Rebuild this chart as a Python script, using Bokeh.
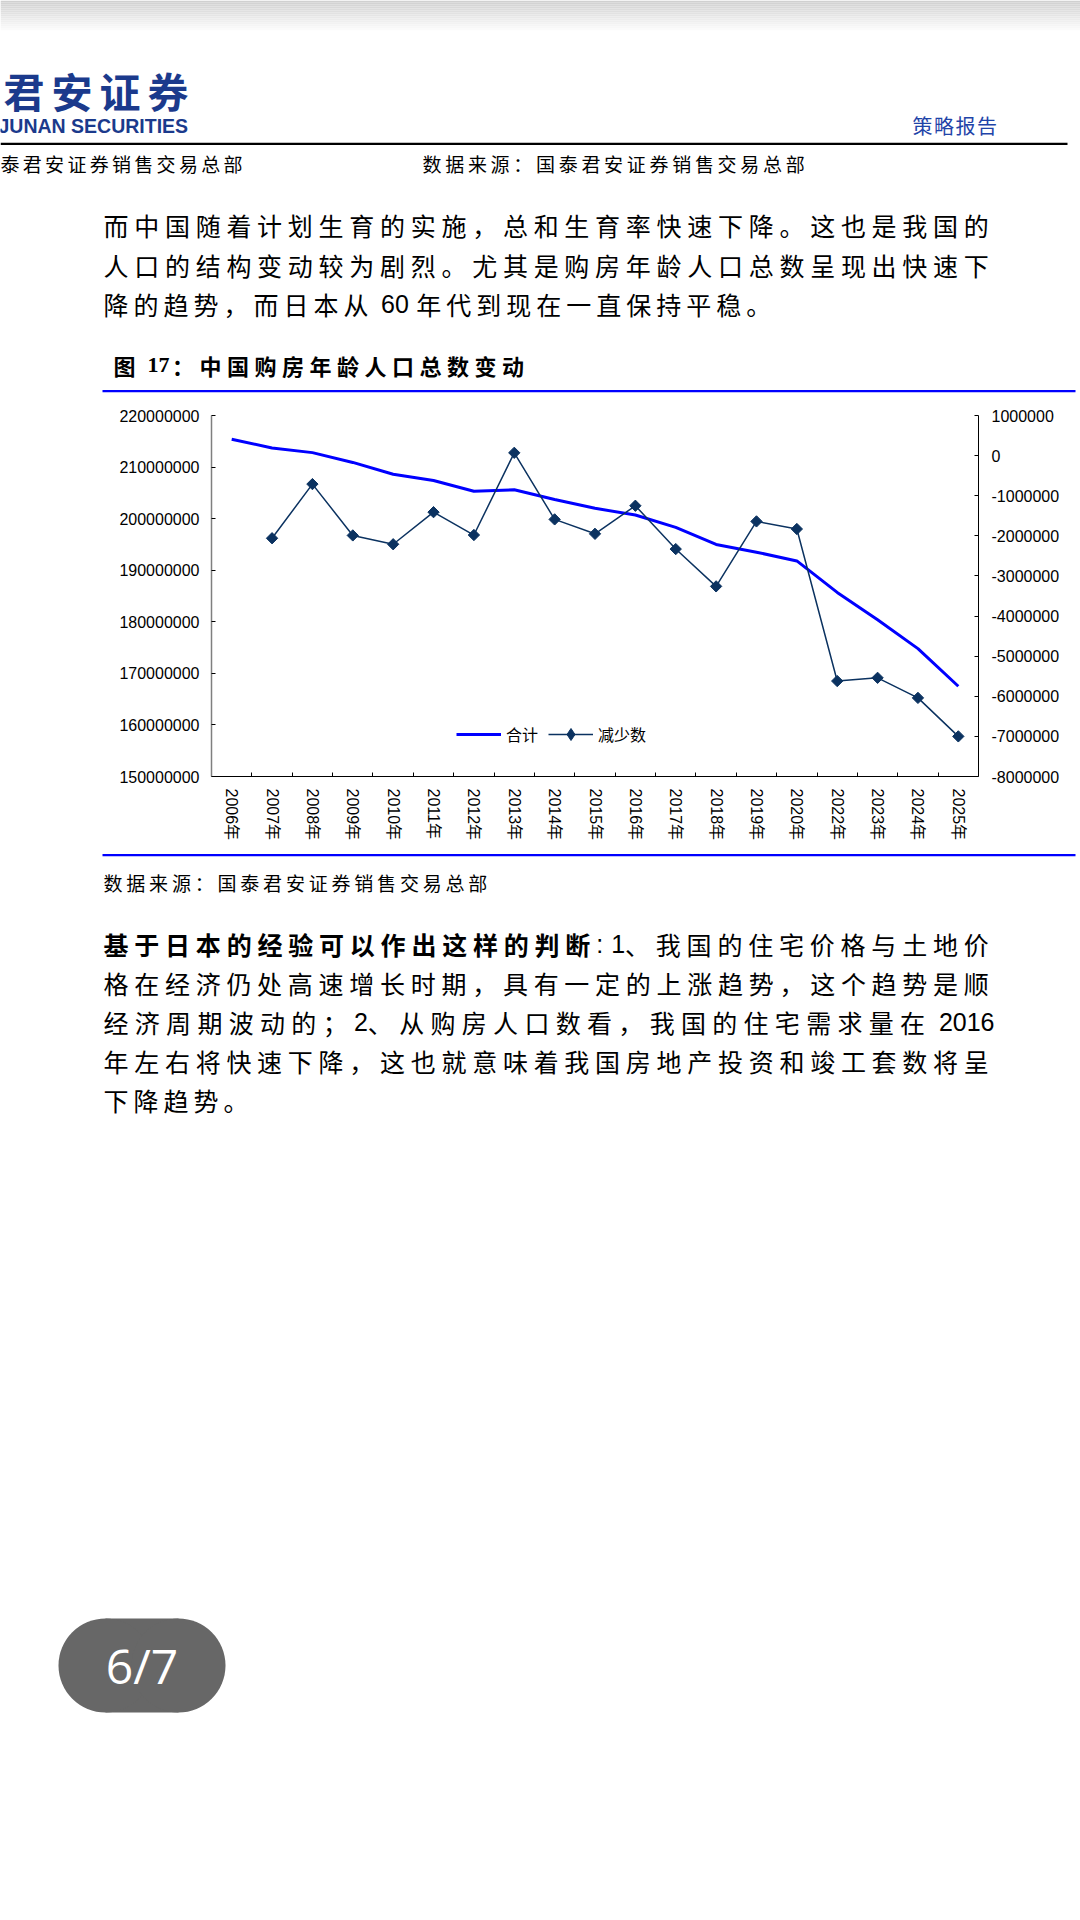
import math
import numpy as np
from bokeh.plotting import figure
from bokeh.layouts import column
from bokeh.models import (ColumnDataSource, Range1d, LinearAxis, FixedTicker,
                          NumeralTickFormatter, CustomJSTickFormatter,
                          Legend, LegendItem)
from bokeh.embed import file_html
from bokeh.resources import INLINE
from bokeh.core.properties import value

# ---------------- data ----------------
years = ["2006年", "2007年", "2008年", "2009年", "2010年", "2011年", "2012年",
         "2013年", "2014年", "2015年", "2016年", "2017年", "2018年", "2019年",
         "2020年", "2022年", "2023年", "2024年", "2025年"]
# 合计 (left axis)
total_pop = [215400000, 213700000, 212800000, 210900000, 208600000, 207400000,
             205300000, 205600000, 203700000, 202000000, 200700000, 198300000,
             195000000, 193500000, 191800000, 185700000, 180400000, 174800000,
             167500000]
# 减少数 (right axis), no value for 2006
decrease = [None, -2060000, -710000, -1990000, -2210000, -1410000, -1980000,
            70000, -1590000, -1950000, -1250000, -2330000, -3260000, -1640000,
            -1830000, -5620000, -5540000, -6040000, -7000000]
left_ticks = [150000000, 160000000, 170000000, 180000000, 190000000,
              200000000, 210000000, 220000000]
right_ticks = [-8000000, -7000000, -6000000, -5000000, -4000000, -3000000,
               -2000000, -1000000, 0, 1000000]

W = 1080
CJK = "Noto Sans CJK SC"
LAT = "Liberation Sans"


def add_line(fig, s, x0, y, size, pitch=None, x_end=None, bold_n=0,
             color="black", cjk_font=CJK, lat_font=LAT, lat_bold=False):
    tokens = []
    i = 0
    while i < len(s):
        if ord(s[i]) < 128:
            j = i
            while j < len(s) and ord(s[j]) < 128:
                j += 1
            tokens.append(("lat", s[i:j], i))
            i = j
        else:
            tokens.append(("cjk", s[i], i))
            i += 1

    def lat_w(t):
        w = 0.0
        for ch in t:
            if ch in " :;,.":
                w += 0.3 * size
            else:
                w += 0.556 * size
        return w

    n_cjk = sum(1 for t in tokens if t[0] == "cjk")
    lat_total = sum(lat_w(t[1]) for t in tokens if t[0] == "lat")
    if x_end is not None and n_cjk:
        pitch = (x_end - x0 - lat_total) / n_cjk
    x = x0
    groups = {}
    for kind, t, idx in tokens:
        if kind == "cjk":
            key = (cjk_font, "bold" if idx < bold_n else "normal")
            groups.setdefault(key, []).append((x, t))
            x += pitch
        else:
            cx = x
            for piece in t.split(" "):
                if piece:
                    key = (lat_font, "bold" if (idx < bold_n or lat_bold) else "normal")
                    groups.setdefault(key, []).append((cx, piece))
                cx += lat_w(piece) + 0.3 * size
            x += lat_w(t)
    for (font, style), items in groups.items():
        fig.text(x=[a for a, _ in items], y=[y] * len(items),
                 text=[b for _, b in items], text_font=value(font),
                 text_font_style=style, text_font_size=f"{size}px",
                 text_color=color, text_align="left", text_baseline="middle")


def page_fig(h):
    f = figure(width=W, height=h, x_range=Range1d(0, W), y_range=Range1d(h, 0),
               x_axis_type=None, y_axis_type=None, toolbar_location=None,
               output_backend="svg", min_border=0, outline_line_color=None,
               frame_align=False)
    f.background_fill_color = "white"
    f.border_fill_color = "white"
    return f


# ---------------- top part ----------------
top = page_fig(400)
steps = 16
for k in range(steps):
    c = int(208 + (255 - 208) * k / (steps - 1))
    top.quad(left=0, right=W, top=k * 2.0, bottom=k * 2.0 + 2.0,
             fill_color=f"#{c:02x}{c:02x}{c:02x}", line_color=None)

navy = "#1B3A8C"
add_line(top, "君安证券", 3, 89, 41, pitch=48, bold_n=4, color=navy)
top.text(x=[-2], y=[125], text=["JUNAN SECURITIES"], text_font=value(LAT),
         text_font_style="bold", text_font_size="19.5px", text_color=navy,
         text_align="left", text_baseline="middle")
add_line(top, "策略报告", 912, 125, 20, pitch=21.5, color="#1F44A8")
top.quad(left=0, right=1067, top=142.3, bottom=144.6, fill_color="black", line_color=None)
add_line(top, "泰君安证券销售交易总部", 0, 163, 19, pitch=22.3)
add_line(top, "数据来源：国泰君安证券销售交易总部", 422, 163, 19, pitch=22.7)

add_line(top, "而中国随着计划生育的实施，总和生育率快速下降。这也是我国的", 103, 224, 25, x_end=994)
add_line(top, "人口的结构变动较为剧烈。尤其是购房年龄人口总数呈现出快速下", 103, 264.5, 25, x_end=994)
add_line(top, "降的趋势，而日本从 60 年代到现在一直保持平稳。", 103, 303.7, 25, pitch=30)

add_line(top, "图 17：中国购房年龄人口总数变动", 113, 364, 22, pitch=27.5, bold_n=99,
         lat_font="Liberation Serif")
top.quad(left=102, right=1075, top=389.6, bottom=391.8, fill_color="#0000FF", line_color=None)

# ---------------- chart ----------------
n = len(years)
xs = [i + 0.5 for i in range(n)]
src = ColumnDataSource(dict(x=xs, total=total_pop,
                            dec=[np.nan if v is None else v for v in decrease]))

ch = figure(width=W, height=450, x_range=Range1d(0, n),
            y_range=Range1d(left_ticks[0], left_ticks[-1]),
            toolbar_location=None, output_backend="svg",
            min_border_left=211, min_border_right=102, min_border_top=15,
            min_border_bottom=74, outline_line_color=None, frame_align=False)
ch.background_fill_color = "white"
ch.border_fill_color = "white"
ch.extra_y_ranges = {"dec": Range1d(right_ticks[0], right_ticks[-1])}
ch.xgrid.visible = False
ch.ygrid.visible = False

ya = ch.yaxis[0]
ya.ticker = FixedTicker(ticks=left_ticks)
ya.formatter = NumeralTickFormatter(format="0")
ya.axis_line_color = "#7f7f7f"
ya.axis_line_width = 1.5
ya.major_tick_in = 4
ya.major_tick_out = 0
ya.minor_tick_in = 0
ya.minor_tick_out = 0
ya.major_tick_line_color = "black"
ya.major_label_standoff = 12
ya.major_label_text_font = LAT
ya.major_label_text_font_size = "16px"
ya.major_label_text_color = "black"

ra = LinearAxis(y_range_name="dec", ticker=FixedTicker(ticks=right_ticks),
                formatter=NumeralTickFormatter(format="0"))
ra.axis_line_color = "black"
ra.major_tick_in = 4
ra.major_tick_out = 0
ra.minor_tick_in = 0
ra.minor_tick_out = 0
ra.major_tick_line_color = "black"
ra.major_label_standoff = 13
ra.major_label_text_font = LAT
ra.major_label_text_font_size = "16px"
ra.major_label_text_color = "black"
ch.add_layout(ra, "right")

xa = ch.xaxis[0]
xa.ticker = FixedTicker(ticks=xs, minor_ticks=list(range(1, n)))
xa.formatter = CustomJSTickFormatter(args=dict(labels=years),
                                     code="return labels[Math.floor(tick)];")
xa.axis_line_color = "black"
xa.major_tick_in = 0
xa.major_tick_out = 0
xa.minor_tick_in = 4
xa.minor_tick_out = 0
xa.minor_tick_line_color = "black"
xa.major_label_orientation = -math.pi / 2
xa.major_label_standoff = 12
xa.major_label_text_font = "Liberation Sans, Noto Sans CJK SC"
xa.major_label_text_font_size = "16px"
xa.major_label_text_color = "black"

dec_color = "#0B3260"
r_total = ch.line("x", "total", source=src, line_color="#0000FF", line_width=3)
r_dec = ch.line("x", "dec", source=src, y_range_name="dec", line_color=dec_color,
                line_width=1.5)
ch.scatter("x", "dec", source=src, y_range_name="dec", marker="square",
           angle=math.pi / 4, size=8, fill_color=dec_color, line_color=dec_color)
# legend swatch for the diamond marker (no data point of its own)
r_key = ch.scatter(x=[np.nan], y=[np.nan], y_range_name="dec", marker="diamond",
                   size=15, fill_color=dec_color, line_color=dec_color)

lg = Legend(items=[LegendItem(label="合计", renderers=[r_total]),
                   LegendItem(label="减少数", renderers=[r_dec, r_key])])
lg.location = (245, 27)
lg.orientation = "horizontal"
lg.border_line_color = None
lg.background_fill_alpha = 0
lg.padding = 0
lg.margin = 0
lg.spacing = 10
lg.glyph_width = 45
lg.glyph_height = 30
lg.label_standoff = 5
lg.label_height = 16
lg.label_text_font = CJK
lg.label_text_font_size = "16px"
lg.label_text_color = "black"
ch.add_layout(lg, "center")

# ---------------- bottom part ----------------
bot = page_fig(1070)
bot.quad(left=102, right=1075, top=3.6, bottom=5.8, fill_color="#0000FF", line_color=None)
add_line(bot, "数据来源：国泰君安证券销售交易总部", 103, 31.6, 19, pitch=22.8)
add_line(bot, "基于日本的经验可以作出这样的判断: 1、我国的住宅价格与土地价", 103, 93, 25,
         x_end=994, bold_n=16)
add_line(bot, "格在经济仍处高速增长时期，具有一定的上涨趋势，这个趋势是顺", 103, 132.2, 25, x_end=994)
add_line(bot, "经济周期波动的；2、从购房人口数看，我国的住宅需求量在 2016", 103, 171.4, 25, x_end=994)
add_line(bot, "年左右将快速下降，这也就意味着我国房地产投资和竣工套数将呈", 103, 210.6, 25, x_end=994)
add_line(bot, "下降趋势。", 103, 249.8, 25, pitch=30)

bot.quad(left=105, right=178, top=768, bottom=862, fill_color="#676767", line_color=None)
bot.circle(x=[105, 178], y=[815, 815], radius=47, fill_color="#676767", line_color=None)
bot.text(x=[141.5], y=[815], text=["6/7"], text_font=value("Open Sans"),
         text_font_size="48px", text_color="white", text_align="center",
         text_baseline="middle")

layout = column(top, ch, bot, spacing=0)
open("out.html", "w").write(file_html(layout, INLINE))
